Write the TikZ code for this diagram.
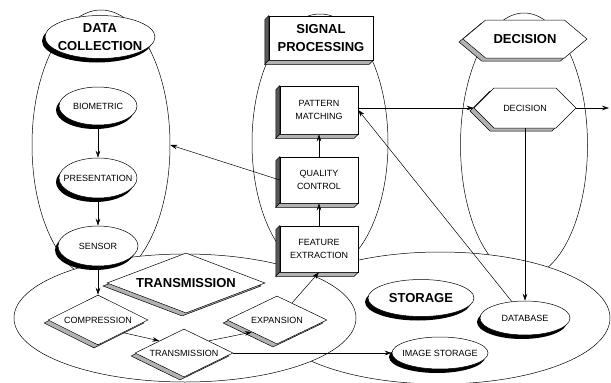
\documentclass[tikz,border=0pt]{standalone}
\usepackage{fontspec}
\setmainfont{Liberation Sans}
\usepackage{tikz}
\usetikzlibrary{shapes,arrows.meta,positioning,calc,shadows}

\tikzset{
  region/.style={ellipse, draw, fill=white, inner sep=0pt},
  oval/.style={ellipse, draw, fill=white, inner sep=0pt,
    general shadow={fill=black, shadow xshift=-3pt, shadow yshift=-4pt}},
  gem/.style={diamond, draw, fill=white, inner sep=0pt,
    general shadow={fill=gray!60, draw=black, shadow xshift=-4pt, shadow yshift=-3pt}},
  hexa/.style={signal, signal to=east and west, signal pointer angle=90, draw, fill=white, inner sep=0pt,
    general shadow={fill=gray!60, draw=black, shadow xshift=-4pt, shadow yshift=-3pt}},
  slab/.style={rectangle, draw, fill=white, align=center},
  title/.style={font=\bfseries\fontsize{13}{18}\selectfont, align=center},
  flow/.style={-{Stealth[length=7pt,width=4.5pt]}},
}

\begin{document}
\begin{tikzpicture}[x=1pt, y=-1pt, line width=0.5pt, font=\fontsize{9}{12.5}\selectfont]
\useasboundingbox (0,0) rectangle (611,383);

% Regions (back to front)
\node[region, minimum width=138pt, minimum height=270pt] (dcreg) at (101,145) {};
\node[region, minimum width=136pt, minimum height=258pt] (spreg) at (320,143) {};
\node[region, minimum width=127pt, minimum height=264pt] (dereg) at (524,145) {};
\node[region, minimum width=340pt, minimum height=132pt] (streg) at (440,318) {};
\node[region, minimum width=342pt, minimum height=128pt] (trreg) at (185,318) {};

% Titles
\node[oval, minimum width=110pt, minimum height=43pt, label={[title]center:DATA\\COLLECTION}] (dctitle) at (100,37) {};
\node[slab, title, minimum width=104pt, minimum height=44pt] (sptitle) at (321,38) {SIGNAL\\PROCESSING};
\node[hexa, signal pointer angle=80, minimum width=124pt, minimum height=38pt, label={[title]center:DECISION}] (detitle) at (525,39) {};
\node[gem, minimum width=158pt, minimum height=60pt, label={[title]center:TRANSMISSION}] (trtitle) at (186,283) {};
\node[oval, minimum width=106pt, minimum height=37pt, label={[title]center:STORAGE}] (sttitle) at (421,298) {};

% Data collection
\node[oval, minimum width=78pt, minimum height=38pt, label=center:BIOMETRIC] (bio) at (98,106) {};
\node[oval, minimum width=78pt, minimum height=40pt, label=center:PRESENTATION] (pres) at (98,178) {};
\node[oval, minimum width=80pt, minimum height=40pt, label=center:SENSOR] (sens) at (98,246) {};

% Transmission
\node[gem, minimum width=100pt, minimum height=50pt, label=center:COMPRESSION] (comp) at (98,320) {};
\node[gem, minimum width=98pt, minimum height=48pt, label=center:TRANSMISSION] (trans) at (184,353) {};
\node[gem, minimum width=100pt, minimum height=48pt, label=center:EXPANSION] (exp) at (277,320) {};

% Signal processing
\node[slab, minimum width=78pt, minimum height=46pt] (feat) at (319,249) {FEATURE\\EXTRACTION};
\node[slab, minimum width=78pt, minimum height=46pt] (qc) at (319,180) {QUALITY\\CONTROL};
\node[slab, minimum width=78pt, minimum height=48pt] (pat) at (319,110) {PATTERN\\MATCHING};

% Decision and storage
\node[hexa, minimum width=102pt, minimum height=40pt, label=center:DECISION] (dec) at (525,108) {};
\node[oval, minimum width=90pt, minimum height=34pt, label=center:DATABASE] (db) at (525,318) {};
\node[oval, minimum width=96pt, minimum height=32pt, label=center:IMAGE STORAGE] (img) at (440,353) {};
\coordinate (out) at (609,108);

% 3D faces of the boxes
\foreach \n in {sptitle,pat,qc,feat} {
  \draw[fill=gray!70!black] (\n.north west) -- (\n.south west) -- ++(-4,4) -- ($(\n.north west)+(-4,4)$) -- cycle;
  \draw[fill=gray!60] (\n.south west) -- (\n.south east) -- ++(-4,4) -- ($(\n.south west)+(-4,4)$) -- cycle;
}

% Connections
\draw[flow] (bio) -- (pres);
\draw[flow] (pres) -- (sens);
\draw[flow] (sens) -- (comp);
\draw[flow] (comp.south east) -- (trans.north west);
\draw[flow] (trans.north east) -- (exp.south west);
\draw[flow] (trans) -- (img);
\draw[flow] (exp) -- (feat.south);
\draw[flow] (feat) -- (qc);
\draw[flow] (qc) -- (pat);
\draw[flow] (qc.west) -- (dcreg.east);
\draw[flow] (pat.east |- dec) -- (dec);
\draw[flow] (dec) -- (out);
\draw[flow] (dec) -- (db);
\draw[flow] (db) -- (pat.east);

\end{tikzpicture}
\end{document}
